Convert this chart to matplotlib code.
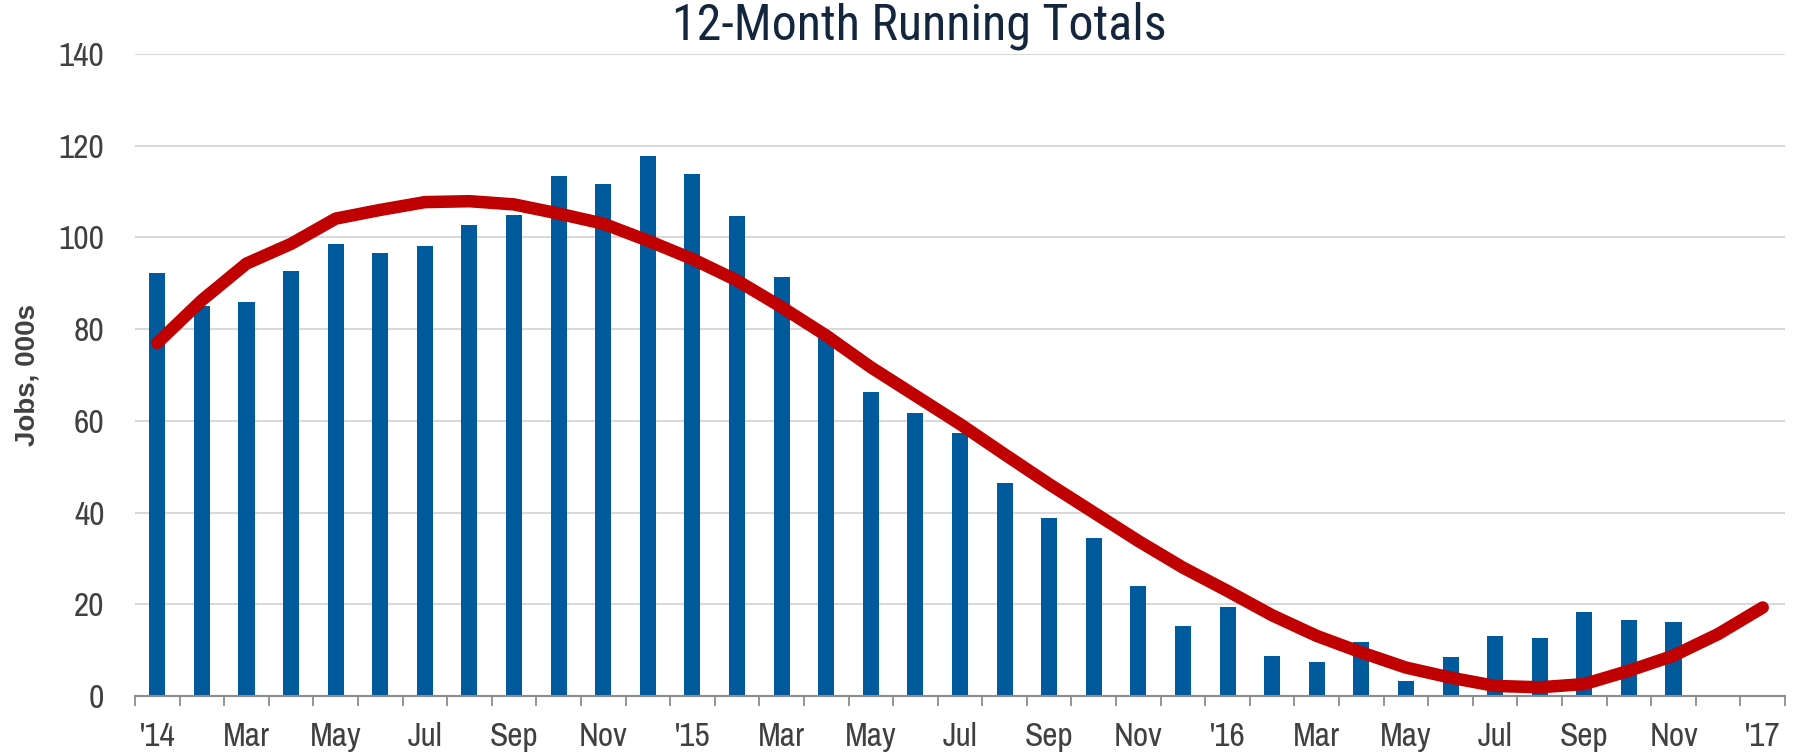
import matplotlib
matplotlib.use("Agg")
import matplotlib.pyplot as plt
from matplotlib import font_manager
import numpy as np

# data
month_labels = ["'14", "Feb", "Mar", "Apr", "May", "Jun", "Jul", "Aug", "Sep", "Oct", "Nov", "Dec",
                "'15", "Feb", "Mar", "Apr", "May", "Jun", "Jul", "Aug", "Sep", "Oct", "Nov", "Dec",
                "'16", "Feb", "Mar", "Apr", "May", "Jun", "Jul", "Aug", "Sep", "Oct", "Nov", "Dec",
                "'17"]

jobs = [92.2, 85.0, 86.0, 92.6, 98.5, 96.7, 98.1, 102.7, 104.9, 113.4, 111.7, 117.8,
        113.9, 104.7, 91.3, 79.0, 66.4, 61.7, 57.3, 46.4, 38.8, 34.4, 23.9, 15.2,
        19.4, 8.7, 7.5, 11.7, 3.3, 8.4, 13.0, 12.6, 18.4, 16.5, 16.2]

trend = [77.0, 86.3, 94.3, 98.6, 104.1, 106.0, 107.7, 107.9, 107.2, 105.2, 103.0, 99.3,
         95.3, 90.6, 84.8, 78.6, 71.7, 65.5, 59.3, 52.7, 46.2, 40.0, 33.8, 28.0,
         22.9, 17.6, 13.1, 9.5, 6.2, 4.0, 2.2, 1.9, 2.6, 5.5, 8.8, 13.5,
         19.3]

title = "12-Month Running Totals"
ylabel = "Jobs, 000s"

# fonts: take the first one that is actually installed
installed = {f.name for f in font_manager.fontManager.ttflist}

def pick(*names):
    for n in names:
        if n in installed:
            return [n, "DejaVu Sans"]
    return ["DejaVu Sans"]

NARROW = pick("Liberation Sans Narrow", "Arial Narrow", "Archivo Narrow", "Roboto Condensed",
              "PT Sans Narrow", "Liberation Sans")
TITLE_FONT = pick("Roboto Condensed", "Archivo Narrow", "PT Sans Narrow", "Liberation Sans Narrow",
                  "Liberation Sans")
LABEL_FONT = pick("Liberation Sans", "Arimo", "DejaVu Sans")

# style
BAR_COLOR = "#005a9c"
LINE_COLOR = "#c00000"
TEXT_GREY = "#404040"

fig = plt.figure(figsize=(18.06, 7.52), dpi=100)
ax = fig.add_axes([135 / 1806, 1 - 696 / 752, (1785 - 135) / 1806, (696 - 54) / 752])

x_bars = np.arange(len(jobs))
x_line = np.arange(len(trend))

ax.bar(x_bars, jobs, width=0.36, color=BAR_COLOR, zorder=2)
ax.plot(x_line, trend, color=LINE_COLOR, linewidth=9, solid_capstyle="round",
        solid_joinstyle="round", zorder=3)

ax.set_xlim(-0.5, len(month_labels) - 0.5)
ax.set_ylim(0, 140)
ax.set_yticks(np.arange(0, 141, 20))
ax.grid(axis="y", color="#d9d9d9", linewidth=1.5, zorder=0)
ax.set_axisbelow(True)

# x labels every second month, tick marks on category boundaries
ax.set_xticks(x_line[::2])
ax.set_xticklabels(month_labels[::2])
ax.set_xticks(np.arange(-0.5, len(month_labels)), minor=True)
ax.tick_params(axis="x", which="major", length=0, pad=19, labelsize=24, labelcolor=TEXT_GREY)
ax.tick_params(axis="x", which="minor", length=7, width=1.3, color="#8c8c8c", direction="out")
ax.tick_params(axis="y", length=0, pad=22, labelsize=24, labelcolor=TEXT_GREY)
for lab in ax.get_xticklabels() + ax.get_yticklabels():
    lab.set_family(NARROW)

for side in ["left", "right", "top"]:
    ax.spines[side].set_visible(False)
ax.spines["bottom"].set_color("#8c8c8c")
ax.spines["bottom"].set_linewidth(1.5)

ax.set_ylabel(ylabel, fontsize=20, fontweight="bold", color=TEXT_GREY, labelpad=13,
              family=LABEL_FONT)

fig.text(919 / 1806, 1 - 26 / 752, title, ha="center", va="center", fontsize=36,
         fontweight="normal", color="#14263d", family=TITLE_FONT)

fig.savefig("out.png", dpi=100)
